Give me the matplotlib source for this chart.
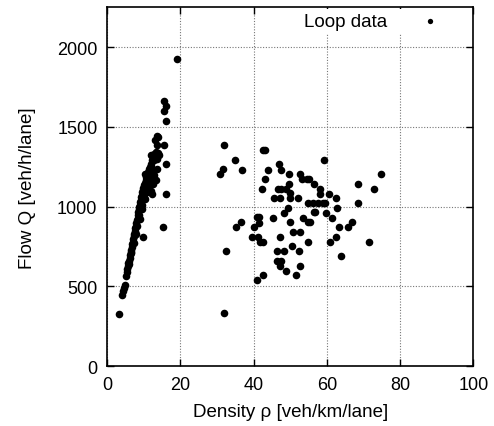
import matplotlib
matplotlib.use("Agg")
import matplotlib.pyplot as plt

plt.rcParams["font.family"] = ["Liberation Sans", "DejaVu Sans"]

# free-flow branch (low density)
free_density = [
    3.3, 4.1, 4.4, 4.6, 4.8, 5.1, 5.3, 5.5, 5.6, 5.8, 5.9, 6.0, 6.1, 6.2, 6.4,
    6.5, 6.6, 6.7, 6.8, 7.0, 7.1, 7.2, 7.3, 7.4, 7.6, 7.7, 7.9, 8.0, 8.1, 8.2,
    8.3, 8.4, 8.5, 8.6, 8.7, 8.8, 8.9, 9.0, 9.2, 9.3, 9.4, 9.5, 9.6, 9.8, 9.9,
    10.0, 10.1, 10.3, 10.5, 10.6, 10.7, 10.9, 11.0, 11.1, 11.3, 11.5, 11.6,
    11.9, 12.2, 12.5, 12.9, 13.3, 14.0, 9.7, 15.3, 12.3, 16.0, 10.3, 12.1,
    13.7, 16.2, 13.0, 12.1, 14.2, 13.5, 15.6, 13.0, 13.7, 13.9, 16.2, 15.6,
    16.2, 15.5, 19.2, 12.8, 13.6, 12.0, 12.6, 11.4, 12.9, 11.8, 13.2, 12.4,
    11.2, 12.0, 10.6, 7.8, 8.9, 9.6, 10.4, 11.0,
]
free_flow = [
    329, 447, 472, 490, 508, 567, 590, 609, 630, 650, 661, 640, 680, 700, 715,
    730, 710, 750, 765, 780, 800, 770, 815, 830, 850, 865, 880, 900, 915, 880,
    930, 950, 965, 985, 1000, 950, 1010, 1030, 1045, 1060, 1010, 1075, 1090,
    1105, 1120, 1060, 1135, 1150, 1170, 1110, 1185, 1200, 1150, 1215, 1235,
    1180, 1250, 1270, 1290, 1310, 1330, 1340, 1335, 813, 872, 1082, 1082, 1202,
    1166, 1235, 1265, 1303, 1324, 1324, 1387, 1387, 1418, 1446, 1437, 1538,
    1601, 1629, 1660, 1927, 1290, 1300, 1250, 1230, 1210, 1200, 1160, 1170,
    1140, 1120, 1100, 1090, 830, 925, 985, 1050, 1095,
]

# congested branch (high density)
cong_density = [
    31.9, 42.5, 43.0, 35.0, 31.7, 30.8, 36.9, 59.2, 47.0, 47.5, 43.8, 43.0,
    42.3, 49.8, 52.7, 53.1, 54.5, 55.0, 56.4, 49.6, 46.6, 47.5, 48.8, 58.1,
    58.1, 60.6, 49.9, 45.7, 47.2, 49.9, 52.2, 62.6, 54.9, 56.3, 57.7, 58.9,
    59.5, 62.7, 49.3, 48.4, 56.5, 56.9, 59.7, 40.8, 41.4, 45.4, 53.6, 61.5,
    36.6, 35.1, 41.5, 40.2, 49.9, 54.9, 55.4, 63.4, 65.8, 39.5, 41.3, 41.7,
    42.5, 47.1, 50.8, 52.8, 54.8, 62.4, 61.0, 50.5, 46.3, 48.3, 52.5, 32.4,
    64.0, 46.3, 47.6, 47.2, 48.8, 52.6, 51.6, 42.5, 41.0, 31.9, 74.9, 68.4,
    73.0, 68.6, 67.0, 71.5,
]
cong_flow = [
    1387, 1355, 1355, 1292, 1235, 1206, 1233, 1295, 1267, 1233, 1233, 1172,
    1112, 1204, 1206, 1175, 1173, 1173, 1145, 1143, 1114, 1114, 1114, 1114,
    1082, 1082, 1084, 1052, 1052, 1052, 1052, 1052, 1025, 1025, 1025, 1025,
    1025, 992, 992, 962, 966, 966, 962, 935, 935, 931, 931, 931, 903, 872,
    899, 872, 903, 901, 901, 872, 872, 813, 813, 781, 781, 813, 842, 842,
    781, 813, 781, 752, 720, 720, 720, 720, 691, 661, 661, 630, 600, 630,
    571, 571, 539, 331, 1204, 1145, 1112, 1023, 901, 781,
]

x_ticks = [0, 20, 40, 60, 80, 100]
y_ticks = [0, 500, 1000, 1500, 2000]

fig = plt.figure(figsize=(4.94, 4.27), dpi=100)
ax = fig.add_axes([0.217, 0.140, 0.741, 0.8406])

ax.scatter(free_density + cong_density, free_flow + cong_flow,
           s=30, color="black", linewidths=0, label="Loop data", zorder=3)

ax.set_xlim(0, 100)
ax.set_ylim(0, 2250)
ax.set_xticks(x_ticks)
ax.set_yticks(y_ticks)
ax.tick_params(direction="in", top=True, right=True, length=5, labelsize=13,
               width=1, pad=7)
ax.grid(True, color="#777777", linestyle=(0, (1, 1.5)), linewidth=0.8)
ax.set_axisbelow(True)
for sp in ax.spines.values():
    sp.set_linewidth(1.2)

ax.set_xlabel("Density ρ [veh/km/lane]", fontsize=13.5, labelpad=7)
ax.set_ylabel("Flow Q [veh/h/lane]", fontsize=13.5, labelpad=15)

leg = ax.legend(loc="upper right", bbox_to_anchor=(0.965, 1.0),
                markerfirst=False, fontsize=13.5,
                frameon=True, fancybox=False, framealpha=1,
                edgecolor="none", facecolor="white", borderaxespad=0.1,
                handlelength=2.6, handletextpad=1.0, markerscale=0.7,
                borderpad=0.2)

fig.savefig("out.png", dpi=100)
